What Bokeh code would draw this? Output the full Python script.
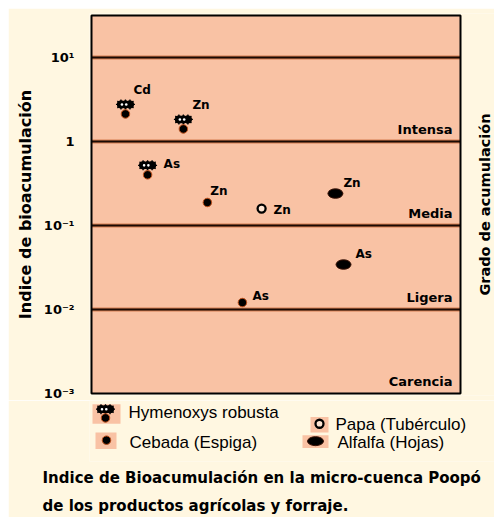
import numpy as np
from bokeh.plotting import figure
from bokeh.models import Range1d, FixedTicker, CustomJSTickFormatter, Title
from bokeh.layouts import column
from bokeh.core.properties import value
from bokeh.embed import file_html
from bokeh.resources import INLINE

# ---------------- data ----------------
tick_vals = [0.001, 0.01, 0.1, 1, 10]
tick_labels = ["10\u207b\u00b3", "10\u207b\u00b2", "10\u207b\u00b9", "1", "10\u00b9"]

band_names = ["Intensa", "Media", "Ligera", "Carencia"]
band_low = [1, 0.1, 0.01, 0.001]
thresholds = [10, 1, 0.1, 0.01]

hym_elem = ["Cd", "Zn", "As"]
hym_x = [9.2, 24.9, 15.2]
hym_val = [2.76, 1.83, 0.52]

ceb_elem = ["Zn", "As"]
ceb_x = [31.4, 40.9]
ceb_val = [0.188, 0.0121]

papa_elem = ["Zn"]
papa_x = [46.1]
papa_val = [0.159]

alf_elem = ["Zn", "As"]
alf_x = [66.1, 68.3]
alf_val = [0.240, 0.0343]

legend_names = ["Hymenoxys robusta", "Cebada (Espiga)", "Papa (Tub\u00e9rculo)", "Alfalfa (Hojas)"]
caption = ["Indice de Bioacumulaci\u00f3n en la micro-cuenca Poop\u00f3",
           "de los productos agr\u00edcolas y forraje."]
left_title = "Indice de bioacumulaci\u00f3n"
right_title = "Grado de acumulaci\u00f3n"

# ---------------- style ----------------
CREAM = "#fff7e1"
PEACH = "#f9c2a4"
RIM = "#c0501a"
FONT = "DejaVu Sans"

X0, X1 = 0, 100
Y0, Y1 = 1e-3, 10 ** 1.5
W = 486
PLOT_L, PLOT_R = 83, 452          # plot box edges inside the figure (px)
PAD = 2                           # frame padding around the plot box (px)
px_per_x = (PLOT_R - PLOT_L) / (X1 - X0)
DECADE_PX = 84.0
BL = PLOT_L - PAD


def ymul(px):
    # factor that moves a value px pixels downward on the log axis
    return 10 ** (-px / DECADE_PX)


p = figure(width=W, height=392,
           x_range=Range1d(X0 - PAD / px_per_x, X1 + (W - PLOT_R) / px_per_x),
           y_range=Range1d(Y0 * ymul(PAD), Y1 / ymul(PAD)),
           y_axis_type="log", x_axis_location=None, toolbar_location=None,
           output_backend="svg", min_border_left=BL, min_border_right=0,
           min_border_top=7 - PAD, min_border_bottom=7 - PAD)
p.background_fill_color = CREAM
p.border_fill_color = CREAM
p.outline_line_color = None
p.grid.visible = False

yax = p.yaxis[0]
yax.ticker = FixedTicker(ticks=tick_vals)
yax.formatter = CustomJSTickFormatter(args=dict(vals=tick_vals, labs=tick_labels), code="""
for (let i = 0; i < vals.length; i++) {
  if (Math.abs(Math.log10(tick) - Math.log10(vals[i])) < 1e-6) return labs[i];
}
return "";
""")
yax.axis_line_color = None
yax.major_tick_line_color = None
yax.minor_tick_line_color = None
yax.major_label_text_font = FONT
yax.major_label_text_font_style = "bold"
yax.major_label_text_font_size = "13px"
yax.major_label_text_color = "black"
yax.major_label_standoff = 11 - PAD
yax.axis_label = left_title
yax.axis_label_text_font = FONT
yax.axis_label_text_font_style = "bold"
yax.axis_label_text_font_size = "16px"
yax.axis_label_text_color = "black"
yax.axis_label_standoff = 6

# plot box
p.quad(left=[X0], right=[X1], bottom=[Y0], top=[Y1], fill_color=PEACH, line_color=None)

# band boundaries
n = len(thresholds)
p.segment(x0=[X0] * n, x1=[X1] * n, y0=thresholds, y1=thresholds,
          line_color=RIM, line_width=4, line_alpha=0.6)
p.segment(x0=[X0] * n, x1=[X1] * n, y0=thresholds, y1=thresholds,
          line_color="#1a0a04", line_width=1.8)
p.quad(left=[X0], right=[X1], bottom=[Y0], top=[Y1], fill_color=None,
       line_color="black", line_width=2)

# right-hand title (reads bottom to top)
p.text(x=[X1 + 24 / px_per_x], y=[10 ** ((np.log10(Y0) + np.log10(Y1)) / 2)],
       text=[right_title], angle=np.pi / 2, text_align="center", text_baseline="middle",
       text_font=value(FONT), text_font_style="bold", text_font_size=value("14.5px"),
       text_color="black")

# band names
p.text(x=[X1] * len(band_names), y=band_low, text=band_names, x_offset=-8, y_offset=-12,
       text_align="right", text_baseline="middle", text_font=value(FONT),
       text_font_style="bold", text_font_size=value("13px"), text_color="black")


def draw_cluster(fig, xs, ys, unit):
    for off in (-4.5, 0, 4.5):
        xx = [v + off / unit for v in xs]
        fig.scatter(x=xx, y=ys, size=7.5, fill_color="black", line_color="black")
        fig.scatter(x=xx, y=ys, marker="asterisk", size=10, line_color="black", line_width=1.3)
    for off in (-3.5, 0.8):
        xx = [v + off / unit for v in xs]
        fig.scatter(x=xx, y=ys, size=2.6, fill_color="white", line_color=None)


# Hymenoxys: cluster + dot
draw_cluster(p, hym_x, hym_val, px_per_x)
p.scatter(x=hym_x, y=[v * ymul(9.5) for v in hym_val], size=8.5,
          fill_color="black", line_color=RIM, line_width=1)
# Cebada
p.scatter(x=ceb_x, y=ceb_val, size=8.5, fill_color="black", line_color=RIM, line_width=1)
# Papa
p.scatter(x=papa_x, y=papa_val, size=8, fill_color="#fde4d2", line_color="black", line_width=2.3)
# Alfalfa
p.ellipse(x=alf_x, y=alf_val, width=15, height=9.5, width_units="screen",
          height_units="screen", fill_color="black", line_color="#3a1206", line_width=1)

# element labels
lab_style = dict(text_align="left", text_baseline="middle", text_font=value(FONT),
                 text_font_style="bold", text_font_size=value("12px"), text_color="black")
p.text(x=hym_x, y=hym_val, text=hym_elem, x_offset=[8, 9, 16], y_offset=[-14, -14, -1], **lab_style)
p.text(x=ceb_x, y=ceb_val, text=ceb_elem, x_offset=[3, 10], y_offset=[-11, -7], **lab_style)
p.text(x=papa_x, y=papa_val, text=papa_elem, x_offset=[12], y_offset=[1], **lab_style)
p.text(x=alf_x, y=alf_val, text=alf_elem, x_offset=[8, 12], y_offset=[-11, -11], **lab_style)

# ---------------- legend (pixel coordinates) + caption ----------------
H2 = 117
FH = 63
q = figure(width=W, height=H2, x_range=Range1d(BL, W), y_range=Range1d(FH, 0),
           x_axis_location=None, y_axis_location=None, toolbar_location=None,
           output_backend="svg", min_border_left=BL, min_border_right=0,
           min_border_top=0, min_border_bottom=0)
q.background_fill_color = CREAM
q.border_fill_color = CREAM
q.outline_line_color = None
q.grid.visible = False

# icon backgrounds
q.rect(x=[98, 97.5, 311, 307], y=[14, 41.5, 25, 42.5], width=[28, 21, 18, 26],
       height=[20, 17, 16, 13], fill_color=PEACH, line_color=None)
draw_cluster(q, [97], [9], 1.0)
q.scatter(x=[97], y=[18], size=8.5, fill_color="black", line_color=RIM, line_width=1)
q.scatter(x=[98], y=[41], size=8.5, fill_color="black", line_color=RIM, line_width=1)
q.scatter(x=[311], y=[24], size=8, fill_color="#fde4d2", line_color="black", line_width=2.3)
q.ellipse(x=[307], y=[42], width=16, height=9, width_units="screen", height_units="screen",
          fill_color="black", line_color="#3a1206")

q.text(x=[120, 121, 327, 329], y=[12, 43, 25, 43], text=legend_names,
       text_align="left", text_baseline="middle", text_font=value("Liberation Sans"),
       text_font_size=value("17px"), text_color="black")

for line, so in zip(caption, (10, 6)):
    q.add_layout(Title(text=line, align="left", offset=42 - 8 - BL, standoff=so,
                       text_font=FONT, text_font_style="bold", text_font_size="15px",
                       text_color="black"), "below")

r = figure(width=W, height=6, x_axis_location=None, y_axis_location=None,
           toolbar_location=None, output_backend="svg", min_border=0)
r.background_fill_color = CREAM
r.border_fill_color = CREAM
r.outline_line_color = None
r.grid.visible = False

layout = column(p, q, r, spacing=0, margin=(8, 0, 0, 8))
open("out.html", "w").write(file_html(layout, INLINE))
